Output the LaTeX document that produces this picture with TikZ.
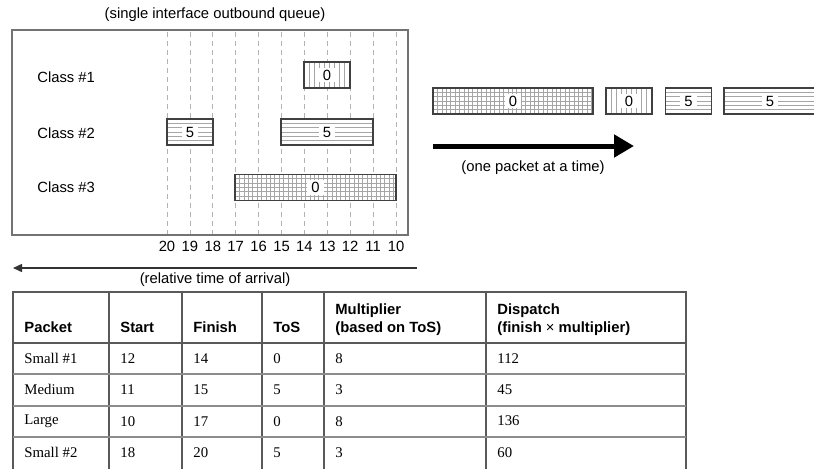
\documentclass[tikz,border=0pt]{standalone}
\usepackage{fontspec}
\setmainfont{Liberation Serif}
\setsansfont{Liberation Sans}
\usetikzlibrary{arrows.meta}

\begin{document}
\begin{tikzpicture}[x=0.5pt,y=-0.5pt,
    txt/.style={font=\fontsize{7.4}{8.6}\selectfont\sffamily, inner sep=0pt},
    tag/.style={txt, fill=white, inner xsep=2pt, inner ysep=1pt},
    pkt/.style={draw=black!75, fill=white, line width=0.6pt, minimum width=#1, minimum height=13pt, inner sep=0pt},
    hatch/.style={draw=black!35, line width=0.3pt},
    vhatch/.style={path picture={\foreach \k in {1,...,40}
        \draw[hatch] ([xshift=\k*2.5pt]path picture bounding box.south west) -- ([xshift=\k*2.5pt]path picture bounding box.north west);}},
    hhatch/.style={path picture={\foreach \k in {1,...,6}
        \draw[hatch] ([yshift=\k*2.2pt]path picture bounding box.south west) -- ([yshift=\k*2.2pt]path picture bounding box.south east);}},
    xhatch/.style={path picture={\foreach \k in {1,...,40}
        \draw[hatch] ([xshift=\k*2.2pt]path picture bounding box.south west) -- ([xshift=\k*2.2pt]path picture bounding box.north west);
        \foreach \k in {1,...,6}
        \draw[hatch] ([yshift=\k*2.2pt]path picture bounding box.south west) -- ([yshift=\k*2.2pt]path picture bounding box.south east);}},
    timeline/.style={draw=black!30, line width=0.4pt, dash pattern=on 2.5pt off 2pt},
    bigarrow/.style={line width=2.5pt, -{Triangle[length=10pt,width=11pt]}},
    smallarrow/.style={draw=black!80, line width=0.7pt, -{Triangle[length=4.5pt,width=4pt]}},
    tabline/.style={draw=black!65, line width=0.6pt},
    rowline/.style={draw=black!45, line width=1pt},
    head/.style={font=\fontsize{7.4}{8.6}\selectfont\sffamily\bfseries, inner sep=0pt, anchor=south west, align=left, text depth=2pt},
    cell/.style={font=\fontsize{7.4}{8.6}\selectfont\rmfamily, inner sep=0pt, anchor=west}]
        \useasboundingbox (0,0) rectangle (814,468);
        % Outbound queue
        \node[txt] (title) at (215,15) {(single interface outbound queue)};
        \draw[draw=black!55, line width=0.8pt] (12,30) rectangle (408,235);
        \foreach \t [count=\i from 0] in {20,19,...,10} {
            \draw[timeline] ({167+22.9*\i},32) -- ({167+22.9*\i},234);
            \node[txt] (t\t) at ({167+22.9*\i},246) {\t};
        }
        \node[txt, anchor=west] (c1) at (37,77)  {Class \#1};
        \node[txt, anchor=west] (c2) at (37,133) {Class \#2};
        \node[txt, anchor=west] (c3) at (37,187) {Class \#3};
        % Packets per class
        \node[pkt=23pt, vhatch, label={[tag]center:0}] (small1) at (327,75)    {};
        \node[pkt=23pt, hhatch, label={[tag]center:5}] (small2) at (190,132)   {};
        \node[pkt=46pt, hhatch, label={[tag]center:5}] (medium) at (327,132)   {};
        \node[pkt=80.5pt, xhatch, label={[tag]center:0}] (large) at (315.5,187.5) {};
        % Arrival axis
        \coordinate (ax0) at (417,268);
        \coordinate (ax1) at (13,268);
        \draw[smallarrow] (ax0) -- (ax1);
        \node[txt] (arrival) at (215,280) {(relative time of arrival)};
        % Dispatched packets
        \node[pkt=80pt, xhatch, label={[tag]center:0}] (q1) at (513,101)   {};
        \node[pkt=23pt, vhatch, label={[tag]center:0}] (q2) at (629,101)   {};
        \node[pkt=23pt, hhatch, label={[tag]center:5}] (q3) at (688.5,101) {};
        \node[pkt=46pt, hhatch, label={[tag]center:5}] (q4) at (770,101)   {};
        \coordinate (out0) at (433,146);
        \coordinate (out1) at (634,146);
        \draw[bigarrow] (out0) -- (out1);
        \node[txt] (onebyone) at (533,168) {(one packet at a time)};
        % Table
        \draw[tabline] (13,470) -- (13,292) -- (686,292) -- (686,470);
        \foreach \x in {109,182,262,324,486}
            \draw[tabline] (\x,292) -- (\x,470);
        \draw[tabline] (13,343) -- (686,343);
        \foreach \y in {374,406,437}
            \draw[rowline] (13,\y) -- (686,\y);
        \node[head] (hpacket) at (24,336.5)  {Packet};
        \node[head] (hstart)  at (120,336.5) {Start};
        \node[head] (hfinish) at (193,336.5) {Finish};
        \node[head] (htos)    at (273,336.5) {ToS};
        \node[head] (hmult)   at (335,336.5) {Multiplier\\(based on ToS)};
        \node[head] (hdisp)   at (497,336.5) {Dispatch\\(finish {\mdseries ×} multiplier)};
        \foreach \pname/\pstart/\pfin/\ptos/\pmul/\pdis [count=\r] in
            {Small \#1/12/14/0/8/112, Medium/11/15/5/3/45, Large/10/17/0/8/136, Small \#2/18/20/5/3/60} {
            \node[cell] (pk\r)  at (24,{327.4+31.25*\r})  {\pname};
            \node[cell] (st\r)  at (120,{327.4+31.25*\r}) {\pstart};
            \node[cell] (fi\r)  at (193,{327.4+31.25*\r}) {\pfin};
            \node[cell] (tos\r) at (273,{327.4+31.25*\r}) {\ptos};
            \node[cell] (mul\r) at (335,{327.4+31.25*\r}) {\pmul};
            \node[cell] (dis\r) at (497,{327.4+31.25*\r}) {\pdis};
        }
\end{tikzpicture}
\end{document}
